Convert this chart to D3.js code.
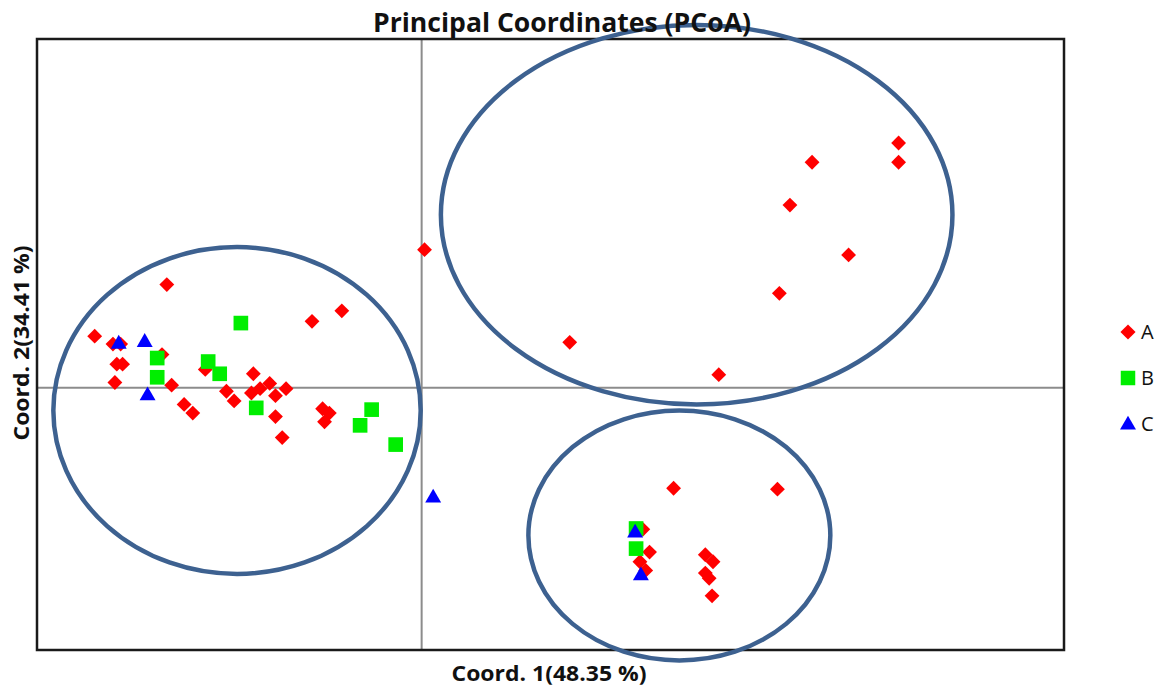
<!DOCTYPE html>
<html>
<head>
<meta charset="utf-8">
<script src="https://cdn.jsdelivr.net/npm/d3@7"></script>
<style>
  html, body { margin: 0; padding: 0; background: #fff; }
  svg { display: block; }
</style>
</head>
<body>
<svg id="chart" width="1159" height="689"></svg>
<script>
// ---- Data (Coord. 1, Coord. 2) ----
const seriesA = [
  [-0.265, 0.118], [-0.340, 0.059], [-0.321, 0.050], [-0.313, 0.050],
  [-0.317, 0.027], [-0.311, 0.027], [-0.319, 0.006], [-0.270, 0.038],
  [-0.260, 0.003], [-0.247, -0.019], [-0.238, -0.029], [-0.225, 0.021],
  [-0.203, -0.004], [-0.195, -0.015], [-0.175, 0.016], [-0.177, -0.006],
  [-0.168, -0.001], [-0.158, 0.005], [-0.152, -0.009], [-0.141, -0.001],
  [-0.152, -0.033], [-0.145, -0.057], [-0.114, 0.076], [-0.083, 0.088],
  [-0.103, -0.024], [-0.096, -0.029], [-0.101, -0.039], [0.003, 0.158],
  [0.496, 0.280], [0.496, 0.258], [0.406, 0.258], [0.383, 0.209],
  [0.444, 0.152], [0.372, 0.108], [0.154, 0.052], [0.309, 0.015],
  [0.262, -0.115], [0.370, -0.116], [0.230, -0.162], [0.237, -0.188],
  [0.227, -0.199], [0.233, -0.209], [0.295, -0.191], [0.303, -0.199],
  [0.295, -0.212], [0.299, -0.218], [0.302, -0.238]
];
const seriesB = [
  [-0.188, 0.074], [-0.275, 0.034], [-0.275, 0.012], [-0.222, 0.030],
  [-0.210, 0.016], [-0.172, -0.023], [-0.052, -0.025], [-0.064, -0.043],
  [-0.027, -0.065], [0.223, -0.161], [0.223, -0.184]
];
const seriesC = [
  [-0.315, 0.050], [-0.288, 0.052], [-0.285, -0.009], [0.012, -0.126],
  [0.222, -0.166], [0.228, -0.215]
];
// group ellipses: [cx, cy, rx, ry] in data units
const ellipses = [
  [-0.192, -0.026, 0.191, 0.187],
  [0.286, 0.198, 0.266, 0.217],
  [0.268, -0.169, 0.157, 0.143]
];
const xDomain = [-0.40, 0.668];
const yDomain = [-0.30, 0.399];
const legendLabels = ["A", "B", "C"];
const titleText = "Principal Coordinates (PCoA)";
const xLabel = "Coord. 1(48.35 %)";
const yLabel = "Coord. 2(34.41 %)";

// ---- Layout ----
const svg = d3.select("#chart");
const plot = { left: 37, right: 1064, top: 39, bottom: 650 };
const x = d3.scaleLinear().domain(xDomain).range([plot.left, plot.right]);
const y = d3.scaleLinear().domain(yDomain).range([plot.bottom, plot.top]);

const font = "'Open Sans', 'Liberation Sans', sans-serif";

// zero axes
svg.append("line")
  .attr("x1", x(0)).attr("x2", x(0))
  .attr("y1", plot.top).attr("y2", plot.bottom)
  .attr("stroke", "#8c8c8c").attr("stroke-width", 2);
svg.append("line")
  .attr("x1", plot.left).attr("x2", plot.right)
  .attr("y1", y(0)).attr("y2", y(0))
  .attr("stroke", "#8c8c8c").attr("stroke-width", 2);

// frame
svg.append("rect")
  .attr("x", plot.left).attr("y", plot.top)
  .attr("width", plot.right - plot.left).attr("height", plot.bottom - plot.top)
  .attr("fill", "none").attr("stroke", "#1a1a1a").attr("stroke-width", 2.5);

// symbols
const diamond = d3.symbol().type(d3.symbolSquare).size(110);
const square = d3.symbol().type(d3.symbolSquare).size(215);
const triangle = d3.symbol().type(d3.symbolTriangle).size(110);

const groups = [
  { data: seriesA, path: diamond(), fill: "#ff0000", rot: 45 },
  { data: seriesB, path: square(), fill: "#00ee00", rot: 0 },
  { data: seriesC, path: triangle(), fill: "#0000ff", rot: 0 }
];

groups.forEach(g => {
  svg.append("g").selectAll("path").data(g.data).join("path")
    .attr("d", g.path)
    .attr("fill", g.fill)
    .attr("transform", d => `translate(${x(d[0])},${y(d[1])}) rotate(${g.rot})`);
});

// ellipses
svg.append("g").selectAll("ellipse").data(ellipses).join("ellipse")
  .attr("cx", d => x(d[0]))
  .attr("cy", d => y(d[1]))
  .attr("rx", d => x(d[2]) - x(0))
  .attr("ry", d => y(0) - y(d[3]))
  .attr("fill", "none")
  .attr("stroke", "#3d6190")
  .attr("stroke-width", 4.5);

// title
svg.append("text")
  .attr("x", 562).attr("y", 32)
  .attr("text-anchor", "middle")
  .attr("font-family", font).attr("font-weight", "bold")
  .attr("font-size", 27)
  .attr("textLength", 378).attr("lengthAdjust", "spacingAndGlyphs")
  .attr("fill", "#111")
  .text(titleText);

// x label
svg.append("text")
  .attr("x", 549).attr("y", 681)
  .attr("text-anchor", "middle")
  .attr("font-family", font).attr("font-weight", "bold")
  .attr("font-size", 21)
  .attr("textLength", 195).attr("lengthAdjust", "spacingAndGlyphs")
  .attr("fill", "#111")
  .text(xLabel);

// y label
svg.append("text")
  .attr("transform", "translate(29,343) rotate(-90)")
  .attr("text-anchor", "middle")
  .attr("font-family", font).attr("font-weight", "bold")
  .attr("font-size", 21)
  .attr("textLength", 195).attr("lengthAdjust", "spacingAndGlyphs")
  .attr("fill", "#111")
  .text(yLabel);

// legend
const legendSyms = [
  { path: d3.symbol().type(d3.symbolSquare).size(115)(), fill: "#ff0000", rot: 45 },
  { path: d3.symbol().type(d3.symbolSquare).size(210)(), fill: "#00ee00", rot: 0 },
  { path: d3.symbol().type(d3.symbolTriangle).size(110)(), fill: "#0000ff", rot: 0 }
];
const legendY = d3.scalePoint().domain(legendLabels).range([332, 424]);
const lg = svg.append("g");
legendLabels.forEach((lab, i) => {
  lg.append("path")
    .attr("d", legendSyms[i].path)
    .attr("fill", legendSyms[i].fill)
    .attr("transform", `translate(1128,${legendY(lab) + (i === 2 ? 1 : 0)}) rotate(${legendSyms[i].rot})`);
  lg.append("text")
    .attr("x", 1141).attr("y", legendY(lab) + 7)
    .attr("font-family", font).attr("font-size", 20)
    .attr("fill", "#111")
    .text(lab);
});
</script>
</body>
</html>
